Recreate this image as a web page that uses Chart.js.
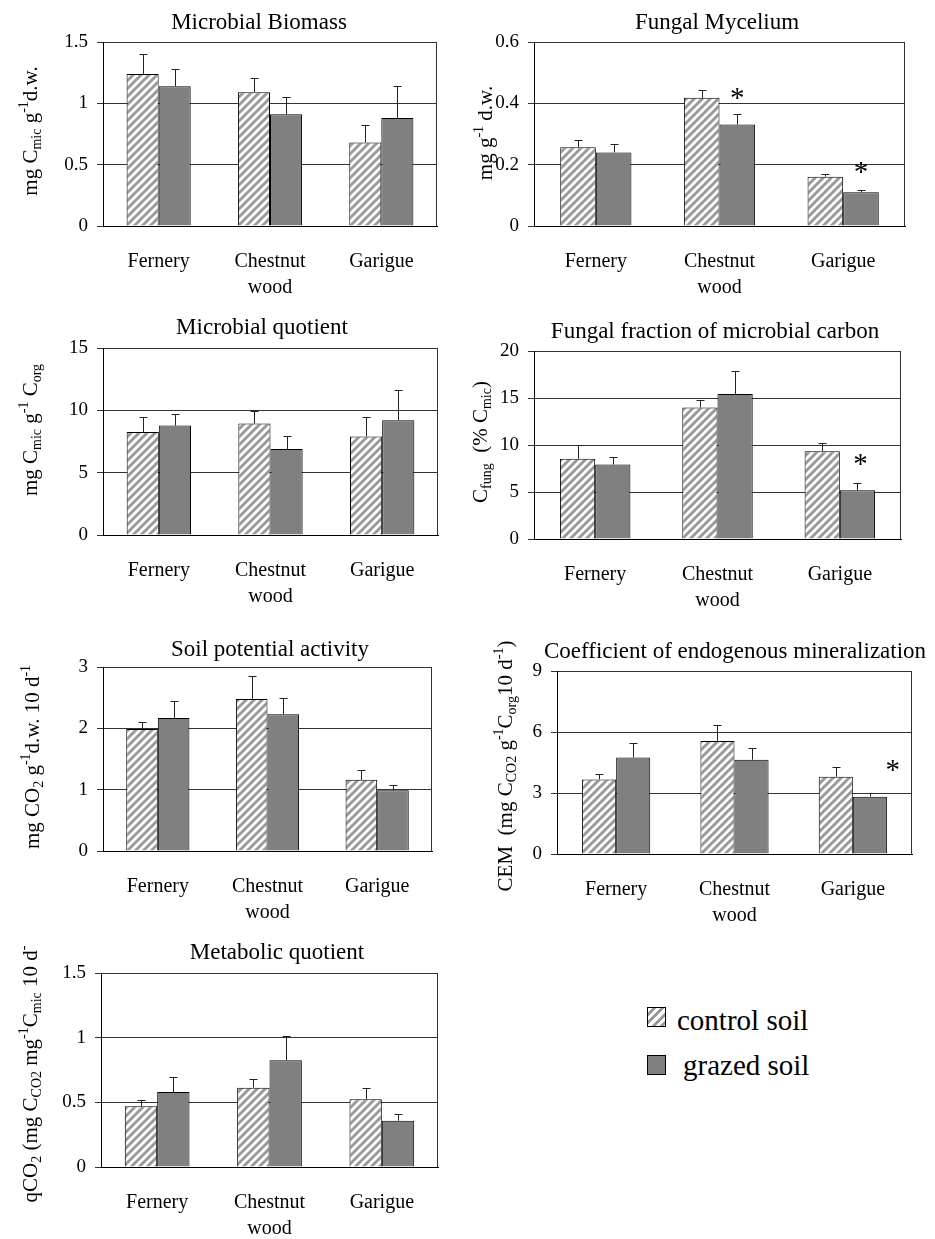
<!DOCTYPE html>
<html>
<head>
<meta charset="utf-8">
<script src="https://cdn.jsdelivr.net/npm/chart.js@4.4.1/dist/chart.umd.min.js"></script>
<style>
  body { margin: 0; background: #fff; }
  #page { position: relative; width: 935px; height: 1239px; overflow: hidden; }
  #page canvas { position: absolute; }
  .sw { position: absolute; width: 19px; height: 20px; border: 1px solid #000; box-sizing: border-box; }
  .hatch { background: repeating-linear-gradient(135deg, #fff 0 3px, #999 3px 6px); }
  .solid { background: #808080; }
  .key { position: absolute; font: 29px "Liberation Serif", "Times New Roman", serif; line-height: 34px; white-space: nowrap; }
</style>
</head>
<body>
<div id="page">
  <canvas id="c1" width="460" height="300" style="left:0px;top:0px"></canvas>
  <canvas id="c2" width="470" height="300" style="left:465px;top:0px"></canvas>
  <canvas id="c3" width="460" height="310" style="left:0px;top:300px"></canvas>
  <canvas id="c4" width="470" height="310" style="left:465px;top:300px"></canvas>
  <canvas id="c5" width="460" height="320" style="left:0px;top:610px"></canvas>
  <canvas id="c6" width="470" height="320" style="left:465px;top:610px"></canvas>
  <canvas id="c7" width="460" height="309" style="left:0px;top:930px"></canvas>

  <div class="sw hatch" style="left:647px;top:1007px"></div>
  <div class="key" style="left:677px;top:1003px">control soil</div>
  <div class="sw solid" style="left:647px;top:1055px"></div>
  <div class="key" style="left:683px;top:1048px">grazed soil</div>
</div>

<script>
// ---- data (control = hatched, grazed = grey) ----
const sites = ['Fernery', ['Chestnut', 'wood'], 'Garigue'];

// Microbial biomass
const biomassTicks = [0, 0.5, 1, 1.5];
const biomassControl = [1.24, 1.09, 0.68];
const biomassControlSe = [0.16, 0.12, 0.14];
const biomassGrazed = [1.14, 0.91, 0.88];
const biomassGrazedSe = [0.14, 0.14, 0.26];

// Fungal mycelium
const myceliumTicks = [0, 0.2, 0.4, 0.6];
const myceliumControl = [0.257, 0.418, 0.161];
const myceliumControlSe = [0.025, 0.024, 0.010];
const myceliumGrazed = [0.240, 0.331, 0.110];
const myceliumGrazedSe = [0.028, 0.034, 0.007];
const myceliumStars = [null, 0.44, 0.20];   // height of the * marks

// Microbial quotient
const quotientTicks = [0, 5, 10, 15];
const quotientControl = [8.27, 8.94, 7.90];
const quotientControlSe = [1.18, 1.04, 1.55];
const quotientGrazed = [8.78, 6.89, 9.21];
const quotientGrazedSe = [0.94, 1.06, 2.45];

// Fungal fraction of microbial carbon
const fungalTicks = [0, 5, 10, 15, 20];
const fungalControl = [8.55, 14.0, 9.33];
const fungalControlSe = [1.45, 0.82, 0.85];
const fungalGrazed = [7.92, 15.43, 5.18];
const fungalGrazedSe = [0.80, 2.47, 0.78];
const fungalStars = [null, null, 8.76];

// Soil potential activity
const activityTicks = [0, 1, 2, 3];
const activityControl = [1.99, 2.48, 1.16];
const activityControlSe = [0.11, 0.37, 0.16];
const activityGrazed = [2.17, 2.23, 0.99];
const activityGrazedSe = [0.28, 0.26, 0.09];

// Coefficient of endogenous mineralization
const cemTicks = [0, 3, 6, 9];
const cemControl = [3.67, 5.56, 3.80];
const cemControlSe = [0.28, 0.80, 0.46];
const cemGrazed = [4.75, 4.64, 2.82];
const cemGrazedSe = [0.71, 0.56, 0.20];
const cemStars = [null, null, 4.46];

// Metabolic quotient
const qco2Ticks = [0, 0.5, 1, 1.5];
const qco2Control = [0.469, 0.613, 0.523];
const qco2ControlSe = [0.046, 0.070, 0.090];
const qco2Grazed = [0.580, 0.825, 0.358];
const qco2GrazedSe = [0.118, 0.185, 0.054];

// ---- layout: canvas box [left, top, w, h], plot area [x0, y0, x1, y1], all page px ----
const panels = [
  { id: 'c1', title: 'Microbial Biomass', yTitle: 'mg C_{mic} g^{-1}d.w.',
    ticks: biomassTicks, control: biomassControl, controlSe: biomassControlSe, grazed: biomassGrazed, grazedSe: biomassGrazedSe,
    box: [0, 0, 460, 300], plot: [103, 42, 437, 226], titleAt: [259, 23], yTitleAt: [30, 131] },
  { id: 'c2', title: 'Fungal Mycelium', yTitle: 'mg g^{-1} d.w.',
    ticks: myceliumTicks, control: myceliumControl, controlSe: myceliumControlSe, grazed: myceliumGrazed, grazedSe: myceliumGrazedSe,
    stars: myceliumStars, starDx: 0,
    box: [465, 0, 470, 300], plot: [534, 42, 905, 226], titleAt: [717, 23], yTitleAt: [485, 133] },
  { id: 'c3', title: 'Microbial quotient', yTitle: 'mg C_{mic} g^{-1} C_{org}',
    ticks: quotientTicks, control: quotientControl, controlSe: quotientControlSe, grazed: quotientGrazed, grazedSe: quotientGrazedSe,
    box: [0, 300, 460, 310], plot: [103, 348, 438, 535], titleAt: [262, 328], yTitleAt: [30, 430] },
  { id: 'c4', title: 'Fungal fraction of microbial carbon', yTitle: 'C_{fung}  (% C_{mic})',
    ticks: fungalTicks, control: fungalControl, controlSe: fungalControlSe, grazed: fungalGrazed, grazedSe: fungalGrazedSe,
    stars: fungalStars, starDx: 3,
    box: [465, 300, 470, 310], plot: [534, 351, 901, 539], titleAt: [715, 332], yTitleAt: [480, 442] },
  { id: 'c5', title: 'Soil potential activity', yTitle: 'mg CO_{2} g^{-1}d.w. 10 d^{-1}',
    ticks: activityTicks, control: activityControl, controlSe: activityControlSe, grazed: activityGrazed, grazedSe: activityGrazedSe,
    box: [0, 610, 460, 320], plot: [103, 667, 432, 851], titleAt: [270, 650], yTitleAt: [32, 757] },
  { id: 'c6', title: 'Coefficient of endogenous mineralization', yTitle: 'CEM  (mg C_{CO2} g^{-1}C_{org}10 d^{-1})',
    ticks: cemTicks, control: cemControl, controlSe: cemControlSe, grazed: cemGrazed, grazedSe: cemGrazedSe,
    stars: cemStars, starDx: 23,
    box: [465, 610, 470, 320], plot: [557, 671, 912, 854], titleAt: [735, 652], yTitleAt: [505, 766] },
  { id: 'c7', title: 'Metabolic quotient', yTitle: 'qCO_{2} (mg C_{CO2} mg^{-1}C_{mic} 10 d^{-}',
    ticks: qco2Ticks, control: qco2Control, controlSe: qco2ControlSe, grazed: qco2Grazed, grazedSe: qco2GrazedSe,
    box: [0, 930, 460, 309], plot: [101, 973, 438, 1167], titleAt: [277, 953], yTitleAt: [30, 1074] }
];

const SERIF = '"Liberation Serif", "Times New Roman", serif';
Chart.defaults.font.family = SERIF;
Chart.defaults.color = '#000';

// white with grey "/" stripes, like the control bars
function hatch(ctx) {
  const c = document.createElement('canvas');
  c.width = 8; c.height = 8;
  const g = c.getContext('2d');
  g.fillStyle = '#fff';
  g.fillRect(0, 0, 8, 8);
  g.strokeStyle = '#9a9a9a';
  g.lineWidth = 3;
  g.beginPath();
  g.moveTo(-2, 10); g.lineTo(10, -2);
  g.moveTo(-6, 6); g.lineTo(6, -6);
  g.moveTo(2, 14); g.lineTo(14, 2);
  g.stroke();
  return ctx.createPattern(c, 'repeat');
}

// split 'mg C_{mic} g^{-1}' into normal / sub / sup pieces
function richParts(str) {
  const parts = [];
  str.replace(/_\{([^}]*)\}|\^\{([^}]*)\}|([^_^]+)/g, (m, sub, sup, txt) => {
    if (sub !== undefined) parts.push({ t: sub, k: 'sub' });
    else if (sup !== undefined) parts.push({ t: sup, k: 'sup' });
    else parts.push({ t: txt, k: '' });
  });
  return parts;
}

function drawRotated(ctx, str, cx, cy, size) {
  const parts = richParts(str);
  const small = Math.round(size * 0.65);
  let w = 0;
  parts.forEach(p => {
    ctx.font = (p.k ? small : size) + 'px ' + SERIF;
    p.w = ctx.measureText(p.t).width;
    w += p.w;
  });
  ctx.save();
  ctx.translate(cx, cy);
  ctx.rotate(-Math.PI / 2);
  ctx.fillStyle = '#000';
  ctx.textBaseline = 'alphabetic';
  ctx.textAlign = 'left';
  let x = -w / 2;
  const base = size * 0.32;
  parts.forEach(p => {
    ctx.font = (p.k ? small : size) + 'px ' + SERIF;
    let dy = 0;
    if (p.k === 'sub') dy = size * 0.2;
    if (p.k === 'sup') dy = -size * 0.4;
    ctx.fillText(p.t, x, base + dy);
    x += p.w;
  });
  ctx.restore();
}

// titles, right frame edge, error bars and significance stars
const panelDecor = {
  id: 'panelDecor',
  afterDatasetsDraw(chart, args, opts) {
    const { ctx, scales: { y } } = chart;
    ctx.save();
    ctx.strokeStyle = '#222';
    ctx.lineWidth = 1;
    chart.data.datasets.forEach((ds, i) => {
      chart.getDatasetMeta(i).data.forEach((bar, j) => {
        const top = Math.round(y.getPixelForValue(ds.data[j] + ds.se[j])) + 0.5;
        const bx = Math.round(bar.x) + 0.5;
        ctx.beginPath();
        ctx.moveTo(bx, bar.y);
        ctx.lineTo(bx, top);
        ctx.moveTo(bx - 4, top);
        ctx.lineTo(bx + 4, top);
        ctx.stroke();
      });
    });
    if (opts.stars) {
      const meta = chart.getDatasetMeta(1);
      ctx.fillStyle = '#000';
      ctx.font = '29px ' + SERIF;
      ctx.textAlign = 'center';
      ctx.textBaseline = 'alphabetic';
      opts.stars.forEach((v, j) => {
        if (v === null) return;
        ctx.fillText('*', meta.data[j].x + opts.starDx, y.getPixelForValue(v) + 29 * 0.55);
      });
    }
    ctx.restore();
  },
  afterDraw(chart, args, opts) {
    const { ctx, chartArea: a } = chart;
    ctx.save();
    ctx.strokeStyle = '#333';
    ctx.lineWidth = 1;
    const rx = Math.round(a.right) - 0.5;
    ctx.beginPath();
    ctx.moveTo(rx, a.top);
    ctx.lineTo(rx, a.bottom);
    ctx.stroke();

    ctx.fillStyle = '#000';
    ctx.font = '23px ' + SERIF;
    ctx.textAlign = 'center';
    ctx.textBaseline = 'middle';
    ctx.fillText(opts.title, opts.titleAt[0] - opts.box[0], opts.titleAt[1] - opts.box[1]);
    drawRotated(ctx, opts.yTitle, opts.yTitleAt[0] - opts.box[0], opts.yTitleAt[1] - opts.box[1], 21);
    ctx.restore();
  }
};

function makeChart(p) {
  const canvas = document.getElementById(p.id);
  const ctx = canvas.getContext('2d');
  const [bx, by, bw, bh] = p.box;
  const [x0, y0, x1, y1] = p.plot;
  return new Chart(ctx, {
    type: 'bar',
    data: {
      labels: sites,
      datasets: [
        { label: 'control soil', data: p.control, se: p.controlSe,
          backgroundColor: hatch(ctx), borderColor: '#000', borderWidth: 1 },
        { label: 'grazed soil', data: p.grazed, se: p.grazedSe,
          backgroundColor: '#808080', borderColor: '#000', borderWidth: 1 }
      ]
    },
    options: {
      responsive: false,
      animation: false,
      events: [],
      layout: { padding: { left: 0, top: y0 - by, right: bx + bw - x1, bottom: 0 } },
      datasets: { bar: { categoryPercentage: 0.576, barPercentage: 1 } },
      plugins: {
        legend: { display: false },
        tooltip: { enabled: false },
        panelDecor: { title: p.title, yTitle: p.yTitle, titleAt: p.titleAt, yTitleAt: p.yTitleAt,
                      box: p.box, stars: p.stars, starDx: p.starDx }
      },
      scales: {
        x: {
          grid: { display: false, drawTicks: false },
          border: { color: '#000' },
          ticks: { font: { size: 20, lineHeight: 1.3 }, padding: 23, maxRotation: 0, autoSkip: false },
          afterFit: s => { s.height = by + bh - y1; }
        },
        y: {
          min: p.ticks[0],
          max: p.ticks[p.ticks.length - 1],
          afterBuildTicks: s => { s.ticks = p.ticks.map(v => ({ value: v })); },
          ticks: { font: { size: 19 }, padding: 9, callback: v => String(v) },
          grid: { color: '#333', tickLength: 6 },
          border: { color: '#000' },
          afterFit: s => { s.width = x0 - bx; }
        }
      }
    },
    plugins: [panelDecor]
  });
}

panels.forEach(makeChart);
</script>
</body>
</html>
